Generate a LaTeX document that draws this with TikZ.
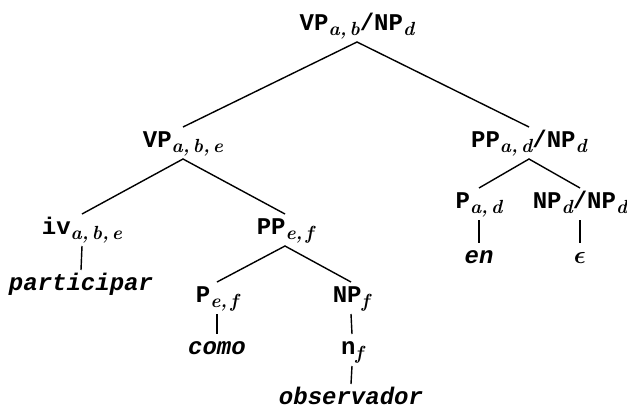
\documentclass[tikz,border=0pt]{standalone}
\usepackage{fontspec}
\setmonofont{Liberation Mono}
\newcommand\ttb[1]{\texttt{\bfseries #1}}
\newcommand\tti[1]{\texttt{\bfseries\itshape #1}}
\newcommand\subx[1]{\raisebox{-5pt}{\fontsize{19}{19}\selectfont\rmfamily\bfseries\itshape #1}}
\newcommand\bfeps{{\mathversion{bold}$\epsilon$}}
\begin{document}
\begin{tikzpicture}[x=1pt,y=1pt,
  lab/.style={font=\fontsize{24}{28}\selectfont, inner sep=0pt, outer sep=6pt,
              text height=14pt, text depth=6pt, anchor=base},
  edge/.style={line width=1.4pt, black}]
\useasboundingbox (0,0) rectangle (627,-410);
% labels
\node[lab] (root)   at (357,-30)  {\ttb{VP}\subx{a,\,b}\ttb{/NP}\subx{d}};
\node[lab] (vpabe)  at (183,-147) {\ttb{VP}\subx{a,\,b,\,e}};
\node[lab] (ppad)   at (529,-147) {\ttb{PP}\subx{a,\,d}\ttb{/NP}\subx{d}};
\node[lab] (iv)     at (82,-234)  {\ttb{iv}\subx{a,\,b,\,e}};
\node[lab] (ppef)   at (285,-234) {\ttb{PP}\subx{e,\,f}};
\node[lab] (part)   at (81,-290)  {\tti{participar}};
\node[lab] (pef)    at (217,-302) {\ttb{P}\subx{e,\,f}};
\node[lab] (npf)    at (351,-302) {\ttb{NP}\subx{f}};
\node[lab] (como)   at (217,-354) {\tti{como}};
\node[lab] (nf)     at (352,-354) {\ttb{n}\subx{f}};
\node[lab] (obs)    at (351,-404) {\tti{observador}};
\node[lab] (pad)    at (479,-208) {\ttb{P}\subx{a,\,d}};
\node[lab] (npdnpd) at (580,-208) {\ttb{NP}\subx{d}\ttb{/NP}\subx{d}};
\node[lab] (en)     at (479,-263) {\tti{en}};
\node[lab] (eps)    at (580,-263) {\bfeps};
% edges
\draw[edge] (vpabe.north) -- (root.south) -- (ppad.north);
\draw[edge] (iv.north) -- (vpabe.south) -- (ppef.north);
\draw[edge] (pef.north) -- (ppef.south) -- (npf.north);
\draw[edge] (pad.north) -- (ppad.south) -- (npdnpd.north);
\draw[edge] (iv.south) -- (part.north);
\draw[edge] (pef.south) -- (como.north);
\draw[edge] (npf.south) -- (nf.north);
\draw[edge] (nf.south) -- (obs.north);
\draw[edge] (pad.south) -- (en.north);
\draw[edge] (npdnpd.south) -- (eps.north);
\end{tikzpicture}
\end{document}
